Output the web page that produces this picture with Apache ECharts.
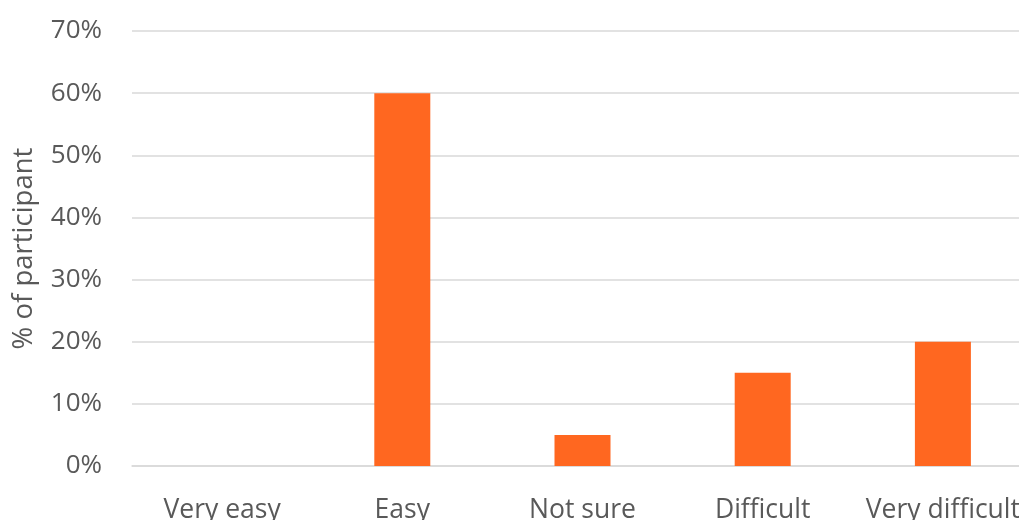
<!DOCTYPE html>
<html><head><meta charset="utf-8">
<script src="https://cdn.jsdelivr.net/npm/echarts@6/dist/echarts.min.js"></script>
<style>html,body{margin:0;padding:0;background:#fff;overflow:hidden}#c{width:1019px;height:520px}</style>
</head><body><div id="c"></div>
<script>
const categories = ["Very easy", "Easy", "Not sure", "Difficult", "Very difficult"];
const values = [0, 60, 5, 15, 20];
const yTicks = [0, 10, 20, 30, 40, 50, 60, 70];
const yAxisTitle = "% of participant";

const chart = echarts.init(document.getElementById('c'), null, {renderer: 'canvas'});
const font = "'Open Sans', sans-serif";
chart.setOption({
  animation: false,
  grid: {left: 132, top: 31, width: 901, height: 435, containLabel: false, outerBoundsMode: 'none'},
  xAxis: {
    type: 'category', data: categories,
    axisLine: {lineStyle: {color: '#d9d9d9', width: 1.5}},
    axisTick: {show: false},
    axisLabel: {color: '#595959', fontFamily: font, fontSize: 26.5, margin: 31, interval: 0}
  },
  yAxis: {
    type: 'value', min: yTicks[0], max: yTicks[yTicks.length-1], interval: 10,
    name: yAxisTitle, nameLocation: 'middle', nameGap: 94,
    nameTextStyle: {color: '#595959', fontFamily: font, fontSize: 27.5},
    axisLine: {show: false}, axisTick: {show: false},
    splitLine: {lineStyle: {color: '#d9d9d9', width: 1.5}},
    axisLabel: {color: '#595959', fontFamily: font, fontSize: 26, margin: 30, formatter: v => v + '%'}
  },
  series: [{
    type: 'bar', data: values, barWidth: 56,
    itemStyle: {color: '#FF6720'}
  }]
});
</script></body></html>
